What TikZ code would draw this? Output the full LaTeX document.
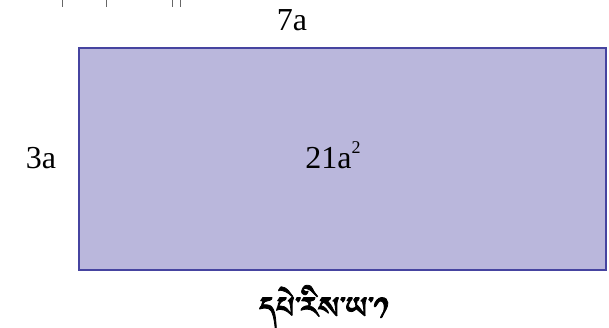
\documentclass[tikz,border=0pt]{standalone}
\usepackage{fontspec}
\setmainfont{Liberation Serif}
\IfFontExistsTF{Jomolhari}{\newfontfamily\tibfont[Script=Tibetan,FakeBold=2]{Jomolhari}}{%
 \IfFontExistsTF{Tibetan Machine Uni}{\newfontfamily\tibfont[Script=Tibetan,FakeBold=2]{Tibetan Machine Uni}}{%
  \IfFontExistsTF{Noto Sans Tibetan}{\newfontfamily\tibfont[Script=Tibetan,FakeBold=2]{Noto Sans Tibetan}}{%
   \IfFontExistsTF{Noto Serif Tibetan}{\newfontfamily\tibfont[Script=Tibetan,FakeBold=2]{Noto Serif Tibetan}}{%
    \newfontfamily\tibfont{DejaVu Sans}}}}}
\definecolor{rectfill}{RGB}{186,183,220}
\definecolor{rectline}{RGB}{70,68,160}
\tikzset{
  lbl/.style={inner sep=0pt, font=\fontsize{32}{34}\selectfont},
  tick/.style={draw=gray!80!black, line width=0.8pt},
}
\begin{document}
\begin{tikzpicture}[x=1pt,y=-1pt]
\useasboundingbox (0,0) rectangle (609,327);
\node[draw=rectline, fill=rectfill, line width=2pt, minimum width=527pt, minimum height=222pt, inner sep=0pt] (box) at (342.5,159) {};
\node[lbl, anchor=base] (top) at (292,30) {7a};
\node[lbl, anchor=base] (left) at (41,168) {3a};
\node[lbl, anchor=base] (area) at (333,168) {21a\raisebox{15pt}{\fontsize{18}{19}\selectfont 2}};
\node[inner sep=0pt, anchor=north, font=\tibfont\fontsize{39}{41}\selectfont] (cap) at (324,285) {དཔེ་རིས་ཡ་༡};
\coordinate (t1a) at (62,0); \coordinate (t1b) at (62,7);
\coordinate (t2a) at (106,0); \coordinate (t2b) at (106,7);
\coordinate (t3a) at (172,0); \coordinate (t3b) at (172,7);
\coordinate (t4a) at (180,0); \coordinate (t4b) at (180,7);
\draw[tick] (t1a) -- (t1b);
\draw[tick] (t2a) -- (t2b);
\draw[tick] (t3a) -- (t3b);
\draw[tick] (t4a) -- (t4b);
\end{tikzpicture}
\end{document}
